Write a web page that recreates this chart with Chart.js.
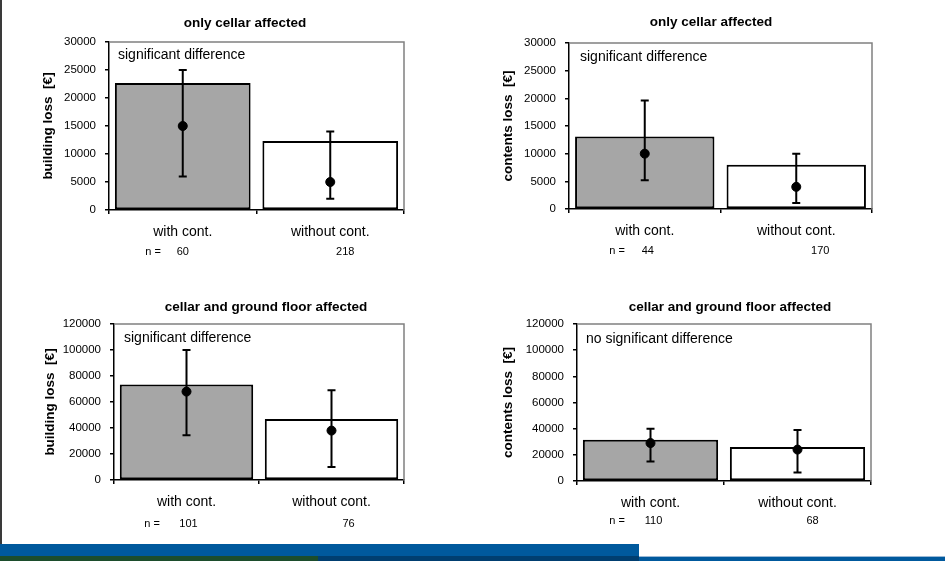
<!DOCTYPE html>
<html>
<head>
<meta charset="utf-8">
<script src="https://cdn.jsdelivr.net/npm/chart.js@4.4.1/dist/chart.umd.min.js"></script>
<style>
  body { margin: 0; background: #fff; }
  #page { position: relative; width: 945px; height: 561px; overflow: hidden; background: #fff; }
  #page canvas { position: absolute; left: 0; top: 0; }
  .edge { position: absolute; left: 0; top: 0; width: 2px; height: 544px; background: #3a3a3a; }
  .band { position: absolute; }
</style>
</head>
<body>
<div id="page">
  <div class="edge"></div>
  <canvas id="c0" width="945" height="561"></canvas>
  <canvas id="c1" width="945" height="561"></canvas>
  <canvas id="c2" width="945" height="561"></canvas>
  <canvas id="c3" width="945" height="561"></canvas>
  <div class="band" style="left:0;top:544px;width:639px;height:17px;background:#00599d"></div>
  <div class="band" style="left:0;top:556px;width:318px;height:5px;background:#1c4d2c"></div>
  <div class="band" style="left:318px;top:556px;width:321px;height:5px;background:#003e70"></div>
  <div class="band" style="left:639px;top:556px;width:306px;height:1px;background:#9bb9d6"></div>
  <div class="band" style="left:639px;top:557px;width:306px;height:4px;background:#00599d"></div>
</div>
<script>
// data, one entry per panel (top-left, top-right, bottom-left, bottom-right)
const categories = ['with cont.', 'without cont.'];
const panelTitles = ['only cellar affected', 'only cellar affected',
  'cellar and ground floor affected', 'cellar and ground floor affected'];
const yTitles = ['building loss  [€]', 'contents loss  [€]', 'building loss  [€]', 'contents loss  [€]'];
const notes = ['significant difference', 'significant difference',
  'significant difference', 'no significant difference'];
const yMax = [30000, 30000, 120000, 120000];
const yStep = [5000, 5000, 20000, 20000];
const barValues = [[22700, 12300], [13100, 8000], [73500, 47000], [31500, 26000]];
const pointValues = [[15000, 5000], [10000, 4000], [68000, 38000], [29000, 24000]];
const errLow = [[6000, 2000], [5200, 1100], [34500, 10000], [15000, 6500]];
const errHigh = [[25000, 14000], [19600, 10000], [100000, 69000], [40000, 39000]];
const sampleSizes = [[60, 218], [44, 170], [101, 76], [110, 68]];

// where each panel sits on the page
const boxes = [
  {yTitleLeft: 40, left: 109, top: 42, right: 404, bottom: 210, titleX: 245, titleY: 23, noteX: 118, noteY: 55, nY: 252, nLabelX: 153, nDx: [0, 15]},
  {yTitleLeft: 500, left: 569, top: 43, right: 872, bottom: 209, titleX: 711, titleY: 22, noteX: 580, noteY: 57, nY: 251, nLabelX: 617, nDx: [3, 24]},
  {yTitleLeft: 42, left: 114, top: 324, right: 404, bottom: 480, titleX: 266, titleY: 307, noteX: 124, noteY: 338, nY: 524, nLabelX: 152, nDx: [2, 17]},
  {yTitleLeft: 500, left: 577, top: 324, right: 871, bottom: 481, titleX: 730, titleY: 307, noteX: 586, noteY: 339, nY: 521, nLabelX: 617, nDx: [3, 15]}
];
const xAxisHeight = 30;
const fontFamily = "'Liberation Sans', Arial, sans-serif";

Chart.defaults.font.family = fontFamily;
Chart.defaults.color = '#000';

// gray top / right edge of the plot area
const frame = {
  id: 'frame',
  beforeDatasetsDraw(chart) {
    const {ctx, chartArea: a} = chart;
    ctx.save();
    ctx.strokeStyle = '#808080';
    ctx.lineWidth = 1.5;
    ctx.beginPath();
    ctx.moveTo(a.left, a.top);
    ctx.lineTo(a.right, a.top);
    ctx.lineTo(a.right, a.bottom);
    ctx.stroke();
    ctx.restore();
  }
};

const errorBars = {
  id: 'errorBars',
  afterDatasetsDraw(chart, args, opts) {
    const {ctx} = chart;
    const x = chart.scales.x, y = chart.scales.y;
    ctx.save();
    ctx.strokeStyle = '#000';
    ctx.lineWidth = 2;
    opts.low.forEach((lo, i) => {
      const px = x.getPixelForValue(i);
      const y1 = y.getPixelForValue(lo);
      const y2 = y.getPixelForValue(opts.high[i]);
      ctx.beginPath();
      ctx.moveTo(px, y1); ctx.lineTo(px, y2);
      ctx.moveTo(px - 4, y1); ctx.lineTo(px + 4, y1);
      ctx.moveTo(px - 4, y2); ctx.lineTo(px + 4, y2);
      ctx.stroke();
    });
    ctx.restore();
  }
};

const panelText = {
  id: 'panelText',
  afterDraw(chart, args, opts) {
    const {ctx} = chart;
    const b = opts.box;
    const x = chart.scales.x;
    ctx.save();
    ctx.fillStyle = '#000';
    ctx.textBaseline = 'middle';
    ctx.font = 'bold 13.5px ' + fontFamily;
    ctx.textAlign = 'center';
    ctx.fillText(opts.title, b.titleX, b.titleY);
    ctx.font = '14px ' + fontFamily;
    ctx.textAlign = 'left';
    ctx.fillText(opts.note, b.noteX, b.noteY);
    ctx.font = '11px ' + fontFamily;
    ctx.textAlign = 'center';
    ctx.fillText('n =', b.nLabelX, b.nY);
    opts.n.forEach((n, i) => {
      ctx.fillText(String(n), x.getPixelForValue(i) + b.nDx[i], b.nY);
    });
    ctx.restore();
  }
};

boxes.forEach((b, p) => {
  const ctx = document.getElementById('c' + p).getContext('2d');
  new Chart(ctx, {
    type: 'bar',
    data: {
      labels: categories,
      datasets: [{
        type: 'line',
        data: pointValues[p],
        showLine: false,
        pointRadius: 4.5,
        pointBackgroundColor: '#000',
        pointBorderColor: '#000',
        borderColor: '#000'
      }, {
        data: barValues[p],
        backgroundColor: ['#a6a6a6', '#ffffff'],
        borderColor: '#000',
        borderWidth: 2,
        borderSkipped: false,
        barPercentage: 0.92,
        categoryPercentage: 1
      }]
    },
    options: {
      responsive: false,
      animation: false,
      devicePixelRatio: 1,
      layout: {
        padding: {
          left: b.yTitleLeft,
          top: b.top,
          right: 945 - b.right,
          bottom: 561 - b.bottom - xAxisHeight
        }
      },
      plugins: {
        legend: { display: false },
        tooltip: { enabled: false },
        errorBars: { low: errLow[p], high: errHigh[p] },
        panelText: { box: b, title: panelTitles[p], note: notes[p], n: sampleSizes[p] }
      },
      scales: {
        x: {
          offset: true,
          afterFit(scale) { scale.height = xAxisHeight; },
          grid: { offset: true, drawOnChartArea: false, tickLength: 4, color: '#000', lineWidth: 1.5 },
          border: { color: '#000', width: 1.5 },
          ticks: { font: { size: 14 }, padding: 10, color: '#000' }
        },
        y: {
          min: 0,
          max: yMax[p],
          afterFit(scale) { scale.width = b.left - b.yTitleLeft; },
          grid: { drawOnChartArea: false, tickLength: 4, color: '#000', lineWidth: 1.5 },
          border: { color: '#000', width: 1.5 },
          ticks: {
            stepSize: yStep[p],
            font: { size: 11.5 },
            padding: 9,
            color: '#000',
            callback: value => String(value)
          },
          title: {
            display: true,
            text: yTitles[p],
            padding: 0,
            font: { size: 13.5, weight: 'bold' }
          }
        }
      }
    },
    plugins: [frame, errorBars, panelText]
  });
});
</script>
</body>
</html>
